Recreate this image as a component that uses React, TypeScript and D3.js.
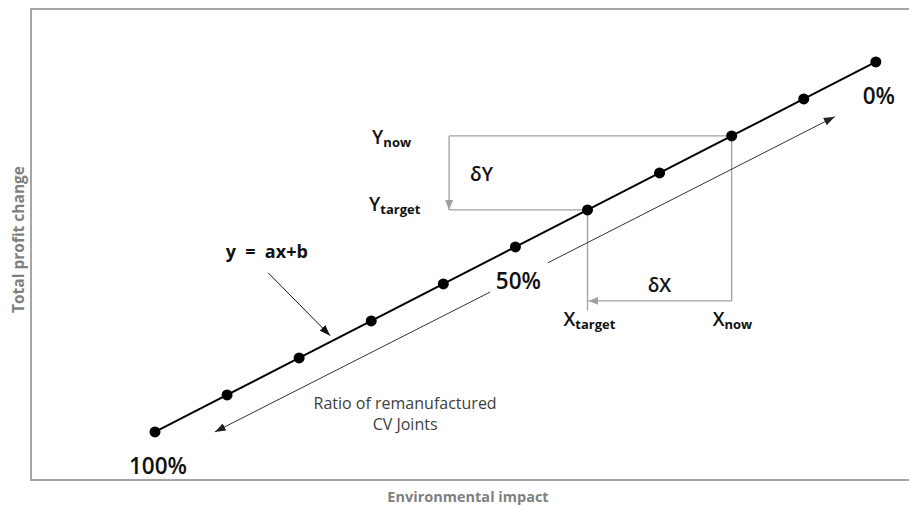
import * as d3 from "d3";
import { useEffect, useRef } from "react";

// ratio of remanufactured CV joints, from 100% down to 0%
const ratioLabels = ["100%", "90%", "80%", "70%", "60%", "50%", "40%", "30%", "20%", "10%", "0%"];
const envImpact = [0, 1, 2, 3, 4, 5, 6, 7, 8, 9, 10];
const profitChange = [0, 1, 2, 3, 4, 5, 6, 7, 8, 9, 10];
const shownRatios = ["100%", "50%", "0%"];

const nowIdx = 8;
const targetIdx = 6;

const W = 909,
  H = 506;

const App = () => {
  const ref = useRef(null);

  useEffect(() => {
    const svg = d3.select(ref.current);
    svg.selectAll("*").remove();

    const margin = { top: 9, right: 0, bottom: 26, left: 31 };

    const x = d3.scaleLinear().domain([-1.72, 10.46]).range([margin.left, W - margin.right]);
    const y = d3.scaleLinear().domain([-1.3, 11.43]).range([H - margin.bottom, margin.top]);

    const pts = envImpact.map((e, i) => ({ e, p: profitChange[i], r: ratioLabels[i] }));
    const font = "'Open Sans', 'Noto Sans', sans-serif";

    const defs = svg.append("defs");
    const marker = (id, color, len, wid) =>
      defs
        .append("marker")
        .attr("id", id)
        .attr("markerUnits", "userSpaceOnUse")
        .attr("viewBox", `0 0 ${len} ${wid}`)
        .attr("refX", len)
        .attr("refY", wid / 2)
        .attr("markerWidth", len)
        .attr("markerHeight", wid)
        .attr("orient", "auto-start-reverse")
        .append("path")
        .attr("d", `M0,0L${len},${wid / 2}L0,${wid}Z`)
        .attr("fill", color);
    marker("ahDark", "#222", 11, 8);
    marker("ahGray", "#a0a0a0", 10, 8);
    marker("ahBlack", "#111", 11, 8);

    // frame (axes without ticks)
    const frame = svg.append("g").attr("stroke", "#a6a6a6").attr("stroke-width", 2).attr("fill", "none");
    frame
      .append("path")
      .attr("d", `M${W},${margin.top}H${margin.left}V${H - margin.bottom}H${W}`);

    svg
      .append("text")
      .attr("x", (margin.left + W) / 2 - 2)
      .attr("y", H - 4)
      .attr("text-anchor", "middle")
      .attr("font-family", font)
      .attr("font-weight", 700)
      .attr("font-size", 14.5)
      .attr("fill", "#7f7f7f")
      .text("Environmental impact");

    svg
      .append("text")
      .attr("transform", `translate(24,${(margin.top + H - margin.bottom) / 2 - 5}) rotate(-90)`)
      .attr("text-anchor", "middle")
      .attr("font-family", font)
      .attr("font-weight", 700)
      .attr("font-size", 15.5)
      .attr("fill", "#7f7f7f")
      .text("Total profit change");

    // delta guides
    const gx = 4.08; // x of the dY arrow
    const dxY = 3.54; // y of the dX arrow
    const guide = svg.append("g").attr("stroke", "#a0a0a0").attr("stroke-width", 1.3).attr("fill", "none");
    guide
      .append("line")
      .attr("x1", x(gx))
      .attr("x2", x(envImpact[nowIdx]))
      .attr("y1", y(profitChange[nowIdx]))
      .attr("y2", y(profitChange[nowIdx]));
    guide
      .append("line")
      .attr("x1", x(gx))
      .attr("x2", x(envImpact[targetIdx]))
      .attr("y1", y(profitChange[targetIdx]))
      .attr("y2", y(profitChange[targetIdx]));
    guide
      .append("line")
      .attr("x1", x(gx))
      .attr("x2", x(gx))
      .attr("y1", y(profitChange[nowIdx]))
      .attr("y2", y(profitChange[targetIdx]))
      .attr("marker-end", "url(#ahGray)");
    guide
      .append("line")
      .attr("x1", x(envImpact[targetIdx]))
      .attr("x2", x(envImpact[targetIdx]))
      .attr("y1", y(profitChange[targetIdx]))
      .attr("y2", y(3.28));
    guide
      .append("line")
      .attr("x1", x(envImpact[nowIdx]))
      .attr("x2", x(envImpact[nowIdx]))
      .attr("y1", y(profitChange[nowIdx]))
      .attr("y2", y(dxY));
    guide
      .append("line")
      .attr("x1", x(envImpact[nowIdx]))
      .attr("x2", x(envImpact[targetIdx]) + 1)
      .attr("y1", y(dxY))
      .attr("y2", y(dxY))
      .attr("marker-end", "url(#ahGray)");

    // ratio arrow, parallel to the line, broken around "50%"
    const ratioArrow = [
      [0.83, 0],
      [4.65, 3.78],
      [5.45, 4.57],
      [9.43, 8.52],
    ];
    const ra = svg.append("g").attr("stroke", "#333").attr("stroke-width", 1).attr("fill", "none");
    ra.append("line")
      .attr("x1", x(ratioArrow[1][0]))
      .attr("y1", y(ratioArrow[1][1]))
      .attr("x2", x(ratioArrow[0][0]))
      .attr("y2", y(ratioArrow[0][1]))
      .attr("marker-end", "url(#ahDark)");
    ra.append("line")
      .attr("x1", x(ratioArrow[2][0]))
      .attr("y1", y(ratioArrow[2][1]))
      .attr("x2", x(ratioArrow[3][0]))
      .attr("y2", y(ratioArrow[3][1]))
      .attr("marker-end", "url(#ahDark)");

    const ratioText = svg
      .append("text")
      .attr("font-family", font)
      .attr("font-size", 16)
      .attr("fill", "#404040")
      .attr("text-anchor", "middle");
    ratioText.append("tspan").attr("x", x(3.47)).attr("y", y(0.62)).text("Ratio of remanufactured");
    ratioText.append("tspan").attr("x", x(3.47)).attr("dy", 21).text("CV Joints");

    // main line and points
    const line = d3
      .line()
      .x((d) => x(d.e))
      .y((d) => y(d.p));
    svg
      .append("path")
      .datum(pts)
      .attr("d", line)
      .attr("fill", "none")
      .attr("stroke", "#000")
      .attr("stroke-width", 2);

    svg
      .selectAll("circle.pt")
      .data(pts)
      .join("circle")
      .attr("class", "pt")
      .attr("cx", (d) => x(d.e))
      .attr("cy", (d) => y(d.p))
      .attr("r", 5.5)
      .attr("fill", "#000");

    svg
      .selectAll("text.ratio")
      .data(pts.filter((d) => shownRatios.includes(d.r)))
      .join("text")
      .attr("class", "ratio")
      .attr("x", (d) => x(d.e) + 3)
      .attr("y", (d) => y(d.p) + 42)
      .attr("text-anchor", "middle")
      .attr("font-family", font)
      .attr("font-weight", 600)
      .attr("font-size", 22.5)
      .attr("fill", "#111")
      .text((d) => d.r);

    // equation label with arrow
    svg
      .append("text")
      .attr("x", x(0.98))
      .attr("y", y(4.7))
      .attr("font-family", font)
      .attr("font-weight", 700)
      .attr("font-size", 18)
      .attr("fill", "#111")
      .attr("xml:space", "preserve")
      .text("y  =  ax+b");
    svg
      .append("line")
      .attr("x1", x(1.57))
      .attr("y1", y(4.3))
      .attr("x2", x(2.43))
      .attr("y2", y(2.6))
      .attr("stroke", "#111")
      .attr("stroke-width", 1)
      .attr("marker-end", "url(#ahBlack)");

    // annotation labels with subscripts
    const sub = (px, py, main, s) => {
      const t = svg
        .append("text")
        .attr("x", px)
        .attr("y", py)
        .attr("font-family", font)
        .attr("font-weight", 600)
        .attr("font-size", 19)
        .attr("fill", "#111");
      t.append("tspan").text(main);
      if (s) t.append("tspan").attr("font-size", 13).attr("font-weight", 700).attr("dy", 3).text(s);
    };
    sub(x(gx) - 77, y(profitChange[nowIdx]) + 8, "Y", "now");
    sub(x(gx) - 80, y(profitChange[targetIdx]) + 1, "Y", "target");
    sub(x(gx) + 21, y(profitChange[nowIdx]) + 45, "δY");
    sub(x(envImpact[nowIdx]) - 84, y(dxY) - 9, "δX");
    sub(x(envImpact[targetIdx]) - 24, y(dxY) + 25, "X", "target");
    sub(x(envImpact[nowIdx]) - 19, y(dxY) + 25, "X", "now");
  }, []);

  return (
    <svg
      ref={ref}
      width={W}
      height={H}
      style={{ position: "absolute", left: 0, top: 0, background: "#fff" }}
    />
  );
};

export default App;
